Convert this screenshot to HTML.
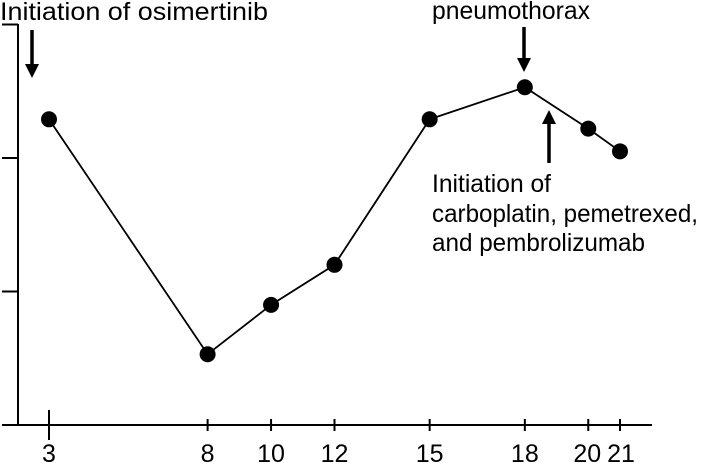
<!DOCTYPE html>
<html><head><meta charset="utf-8"><style>
body{margin:0;background:#fff;}
svg{display:block;font-family:"Liberation Sans",Arial,sans-serif;}
</style></head><body>
<svg id="chart" width="702" height="463">
<g id="axes" stroke="#000" stroke-width="2" fill="none"></g>
<g id="series"></g>
<g id="annot"></g>
</svg>
<script>
const xValues=[3,8,10,12,15,18,20,21];
const yValues=[2.29,0.53,0.90,1.20,2.29,2.53,2.22,2.05];
const xTicks=[3,8,10,12,15,18,20,21];
const yTicks=[1,2,3];
const NS="http://www.w3.org/2000/svg";
const sx=v=>49+(v-3)*(571/18);
const sy=v=>425-v*133.5;
function mk(tag,attrs,parent){const e=document.createElementNS(NS,tag);for(const k in attrs)e.setAttribute(k,attrs[k]);parent.appendChild(e);return e;}
const axes=document.getElementById('axes'),series=document.getElementById('series'),annot=document.getElementById('annot');
let e=mk('line',{x1:18,y1:24,x2:18,y2:425},axes);


e=mk('line',{x1:2,y1:425,x2:652,y2:425},axes);


yTicks.forEach(t=>{const l=mk('line',{x1:2,y1:sy(t),x2:18,y2:sy(t)},axes);

});
xTicks.forEach((t,i)=>{const first=i===0;
const l=mk('line',{x1:sx(t),y1:first?410:419,x2:sx(t),y2:first?440:431},axes);


let dx=0; if(t===20)dx=-1; if(t===21)dx=1;
const tx=mk('text',{x:sx(t)+dx,y:462,'text-anchor':'middle','font-size':25},annot);tx.textContent=t;

});
const pts=xValues.map((v,i)=>sx(v)+','+sy(yValues[i])).join(' ');
const pl=mk('polyline',{points:pts,fill:'none',stroke:'#000','stroke-width':1.8},series);


xValues.forEach((v,i)=>{const c=mk('circle',{cx:sx(v),cy:sy(yValues[i]),r:8,fill:'#000'},series);

});
function arrow(x,y1,y2,name){const dir=y2>y1?1:-1;
const g=mk('g',{},annot);


mk('line',{x1:x,y1:y1,x2:x,y2:y2-dir*12,stroke:'#000','stroke-width':3.5},g);
mk('polygon',{points:`${x-7},${y2-dir*14} ${x+7},${y2-dir*14} ${x},${y2}`,fill:'#000'},g);}
arrow(32,30,78,'osimertinib-arrow');
arrow(524,27,72,'pneumothorax-arrow');
arrow(549,163,110,'chemo-arrow');
function txt(x,y,s,w,name){const t=mk('text',{x:x,y:y,'font-size':25,textLength:w,lengthAdjust:'spacingAndGlyphs'},annot);t.textContent=s;

}
txt(0,20,'Initiation of osimertinib',268,'osimertinib-label');
txt(432,19,'pneumothorax',158,'pneumothorax-label');
txt(432,192,'Initiation of',119,'chemo-label-1');
txt(432,222,'carboplatin, pemetrexed,',266,'chemo-label-2');
txt(432,251,'and pembrolizumab',213,'chemo-label-3');
</script>
</body></html>
